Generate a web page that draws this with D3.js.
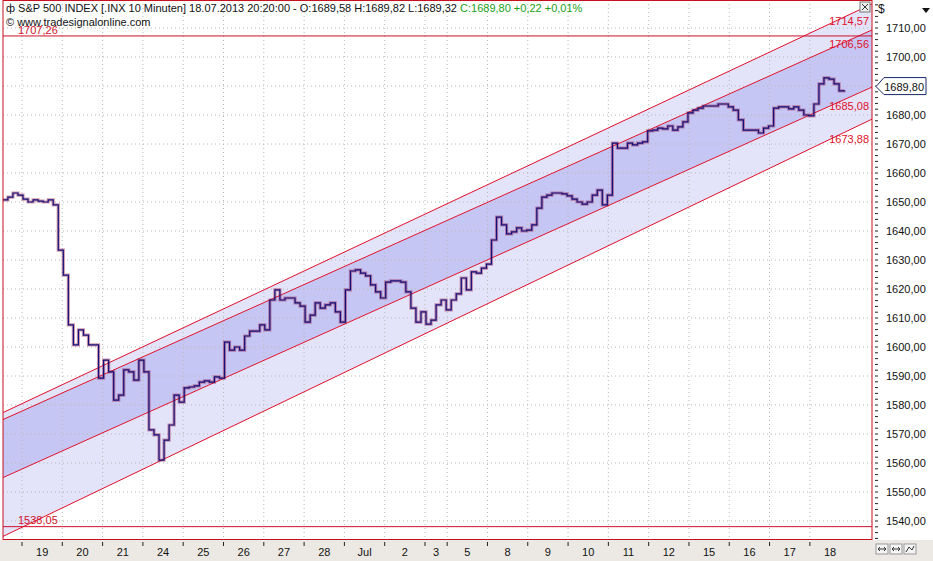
<!DOCTYPE html>
<html><head><meta charset="utf-8">
<script src="https://cdn.jsdelivr.net/npm/d3@7"></script>
<style>body{margin:0;background:#fff}svg{display:block;font-family:"Liberation Sans",Arial,sans-serif}</style>
</head><body><div id="chart"></div>
<script>
// trading days shown on the time axis (Jul 3 was a half session)
const dayLabels = ["19","20","21","24","25","26","27","28","Jul","2","3","5","8","9","10","11","12","15","16","17","18"];
const dayWidths = [1,1,1,1,1,1,1,1,1,1,0.55,1,1,1,1,1,1,1,1,1,1];

// close prices sampled every 1/8 session, starting late on Jun 18
const startT = -0.475, stepT = 0.125;
const closes = [
 1650.7,1651.7,1653.1,1652.4,1651.0,1650.0,1650.7,1650.3,1650.0,1650.7,1649.0,1633.4,1624.8,1607.6,1600.7,1605.9,
 1604.1,1600.7,1600.7,1589.3,1595.5,1591.4,1581.7,1583.4,1592.1,1591.4,1588.6,1595.5,1591.4,1571.4,1569.7,1561.0,
 1567.9,1573.1,1583.4,1581.0,1585.9,1586.2,1586.6,1587.9,1588.3,1587.9,1589.7,1589.3,1601.7,1598.9,1600.0,1598.9,
 1603.8,1605.5,1605.5,1607.6,1605.9,1616.2,1619.7,1616.2,1616.9,1616.9,1615.2,1614.1,1608.6,1611.0,1615.2,1613.4,
 1614.5,1615.2,1612.1,1608.6,1619.7,1626.2,1626.6,1625.5,1624.5,1621.4,1619.0,1616.9,1622.4,1622.8,1622.8,1622.4,
 1619.0,1613.4,1608.6,1612.1,1607.9,1609.3,1614.5,1616.2,1612.8,1616.2,1618.3,1623.8,1619.7,1625.9,1625.5,1627.2,
 1628.6,1636.9,1644.8,1642.1,1639.0,1639.7,1641.1,1640.0,1640.3,1642.1,1647.9,1651.7,1652.4,1653.1,1653.1,1652.8,
 1652.1,1651.0,1650.0,1649.3,1650.0,1652.4,1654.1,1649.0,1652.4,1670.3,1668.6,1668.6,1670.3,1669.7,1670.3,1670.7,
 1674.5,1674.8,1675.5,1675.2,1676.2,1674.8,1675.9,1677.6,1680.7,1681.7,1682.4,1683.1,1683.1,1683.1,1683.8,1683.8,
 1682.8,1681.7,1678.3,1674.8,1674.8,1674.8,1673.8,1675.5,1676.2,1682.4,1682.8,1682.8,1682.1,1682.8,1681.7,1680.0,
 1679.7,1683.8,1690.7,1692.8,1692.4,1690.7,1688.3,1688.6
];

// regression channel lines: price at chart start and chart end (session units)
const channelT = [-0.5, 21.2];
const channelTop = [1577.2, 1719.0];
const channelUpper = [1574.8, 1710.0];
const channelLower = [1554.8, 1690.3];
const channelBottom = [1534.5, 1679.3];
const channelLabels = ["1714,57", "1706,56", "1685,08", "1673,88"];
const channelLabelVals = [1714.57, 1706.56, 1685.08, 1673.88];

const hLines = [1707.26, 1538.05];
const yTicks = d3.range(1540, 1711, 10);
const lastClose = 1689.80;

const W = 933, H = 561;
const plot = { left: 3, right: 872, top: 0, bottom: 540 };

const x = d3.scaleLinear().domain([0, 1]).range([22, 62.3]);
const y = d3.scaleLinear().domain([1540, 1710]).range([521, 28]);
const fmt = v => d3.format(".2f")(v).replace(".", ",");

const svg = d3.select("#chart").append("svg").attr("width", W).attr("height", H);

// axis backgrounds
svg.append("rect").attr("x", 0).attr("y", 0).attr("width", W).attr("height", H).attr("fill", "#fff");
svg.append("rect").attr("x", 0).attr("y", plot.bottom).attr("width", W).attr("height", H - plot.bottom).attr("fill", "#ece9e4");

const defs = svg.append("defs");
defs.append("clipPath").attr("id", "clip").append("rect")
	.attr("x", plot.left).attr("y", plot.top).attr("width", plot.right - plot.left).attr("height", plot.bottom - plot.top);

const g = svg.append("g").attr("clip-path", "url(#clip)");

// channel bands
const x0 = x(channelT[0]), x1 = x(channelT[1]);
function band(a, b, fill) {
	g.append("path")
		.attr("d", `M${x0},${y(a[0])}L${x1},${y(a[1])}L${x1},${y(b[1])}L${x0},${y(b[0])}Z`)
		.attr("fill", fill);
}
band(channelTop, channelUpper, "#e3e3fa");
band(channelUpper, channelLower, "#c6c6f4");
band(channelLower, channelBottom, "#e3e3fa");

// grid
let starts = [0];
dayWidths.forEach((w, i) => starts.push(starts[i] + w));
g.selectAll(".vg").data(starts.slice(0, -1)).join("line")
	.attr("x1", d => x(d)).attr("x2", d => x(d)).attr("y1", plot.top).attr("y2", plot.bottom)
	.attr("stroke", "#b8b8b8").attr("stroke-dasharray", "1,3");
g.selectAll(".hg").data(yTicks).join("line")
	.attr("x1", plot.left).attr("x2", plot.right).attr("y1", d => y(d)).attr("y2", d => y(d))
	.attr("stroke", "#b8b8b8").attr("stroke-dasharray", "1,3");

// channel lines
[channelTop, channelUpper, channelLower, channelBottom].forEach(c => {
	g.append("line").attr("x1", x0).attr("y1", y(c[0])).attr("x2", x1).attr("y2", y(c[1]))
		.attr("stroke", "#e0102a").attr("stroke-width", 1);
});
hLines.forEach(v => {
	g.append("line").attr("x1", plot.left).attr("x2", plot.right).attr("y1", y(v)).attr("y2", y(v))
		.attr("stroke", "#d0102a").attr("stroke-width", 1);
});

// price line
const pts = closes.map((c, i) => [startT + i * stepT, c]);
const line = d3.line().x(d => x(d[0])).y(d => y(d[1])).curve(d3.curveStepAfter);
g.append("path").datum(pts).attr("d", line).attr("fill", "none")
	.attr("stroke", "#9a1a4a").attr("stroke-width", 3.2).attr("opacity", 0.45);
g.append("path").datum(pts).attr("d", line).attr("fill", "none")
	.attr("stroke", "#10107a").attr("stroke-width", 1.2);

// labels for channel and horizontal lines
channelLabels.forEach((t, i) => {
	svg.append("text").attr("x", 869).attr("y", y(channelLabelVals[i]) + 10).attr("text-anchor", "end")
		.attr("font-size", 11).attr("fill", "#e0102a").text(t);
});
svg.append("text").attr("x", 18).attr("y", y(hLines[0]) - 2).attr("font-size", 11).attr("fill", "#d0102a").text(fmt(hLines[0]));
svg.append("text").attr("x", 18).attr("y", y(hLines[1]) - 3).attr("font-size", 11).attr("fill", "#d0102a").text(fmt(hLines[1]));

// plot border
svg.append("rect").attr("x", plot.left).attr("y", plot.top + 0.5).attr("width", plot.right - plot.left).attr("height", plot.bottom - plot.top - 1)
	.attr("fill", "none").attr("stroke", "#c81020");

// right axis
const ra = svg.append("g");
ra.selectAll(".mt").data(d3.range(1534, 1719, 2)).join("line")
	.attr("x1", plot.right + 3).attr("x2", plot.right + 6).attr("y1", d => y(d)).attr("y2", d => y(d)).attr("stroke", "#222");
ra.selectAll(".tl").data(yTicks).join("text")
	.attr("x", plot.right + 14).attr("y", d => y(d) + 4).attr("font-size", 11).attr("fill", "#111").text(fmt);
ra.append("text").attr("x", 878).attr("y", 13).attr("font-size", 12).attr("fill", "#111").text("$");
ra.append("path").attr("d", "M922,8L930,8L926,13Z").attr("fill", "#111");
const ly = y(lastClose);
ra.append("path").attr("d", `M876,${ly}L884,${ly - 9}L926,${ly - 9}L926,${ly + 8}L884,${ly + 8}Z`)
	.attr("fill", "#fff").attr("stroke", "#1a2a6a");
ra.append("text").attr("x", 924).attr("y", ly + 4).attr("text-anchor", "end").attr("font-size", 11).attr("fill", "#111").text(fmt(lastClose));
svg.append("rect").attr("x", 860).attr("y", 2).attr("width", 10).attr("height", 10).attr("fill", "#eee").attr("stroke", "#777");
svg.append("path").attr("d", "M862,4L868,10M868,4L862,10").attr("stroke", "#333");

// bottom axis
const ba = svg.append("g");
ba.selectAll(".dt").data(starts.slice(0, -1)).join("line")
	.attr("x1", d => x(d)).attr("x2", d => x(d)).attr("y1", plot.bottom + 2).attr("y2", plot.bottom + 6).attr("stroke", "#222");
ba.selectAll(".dl").data(dayLabels).join("text")
	.attr("x", (d, i) => x(starts[i] + dayWidths[i] / 2)).attr("y", plot.bottom + 16)
	.attr("text-anchor", "middle").attr("font-size", 11).attr("fill", "#111").text(d => d);
// small zoom buttons at bottom right
[876, 890, 904].forEach((bx, i) => {
	ba.append("rect").attr("x", bx).attr("y", plot.bottom + 4).attr("width", 12).attr("height", 10)
		.attr("fill", "#f4f4f4").attr("stroke", "#999");
	const cy = plot.bottom + 9;
	const d = i === 2 ? `M${bx + 2},${cy + 3}L${bx + 5},${cy - 2}L${bx + 8},${cy + 1}L${bx + 10},${cy - 3}`
		: `M${bx + 2},${cy}L${bx + 10},${cy}M${bx + 2},${cy}L${bx + 4},${cy - 2}M${bx + 2},${cy}L${bx + 4},${cy + 2}M${bx + 10},${cy}L${bx + 8},${cy - 2}M${bx + 10},${cy}L${bx + 8},${cy + 2}`;
	ba.append("path").attr("d", d).attr("fill", "none").attr("stroke", "#333");
});

// header
const hd = svg.append("text").attr("x", 6).attr("y", 12).attr("font-size", 11).attr("fill", "#111");
hd.append("tspan").text("ф S&P 500 INDEX [.INX  10 Minuten] 18.07.2013 20:20:00 - O:1689,58 H:1689,82 L:1689,32 ");
hd.append("tspan").attr("fill", "#1aa01a").text("C:1689,80 +0,22 +0,01%");
svg.append("text").attr("x", 6).attr("y", 26).attr("font-size", 11).attr("fill", "#111").text("© www.tradesignalonline.com");
</script></body></html>
